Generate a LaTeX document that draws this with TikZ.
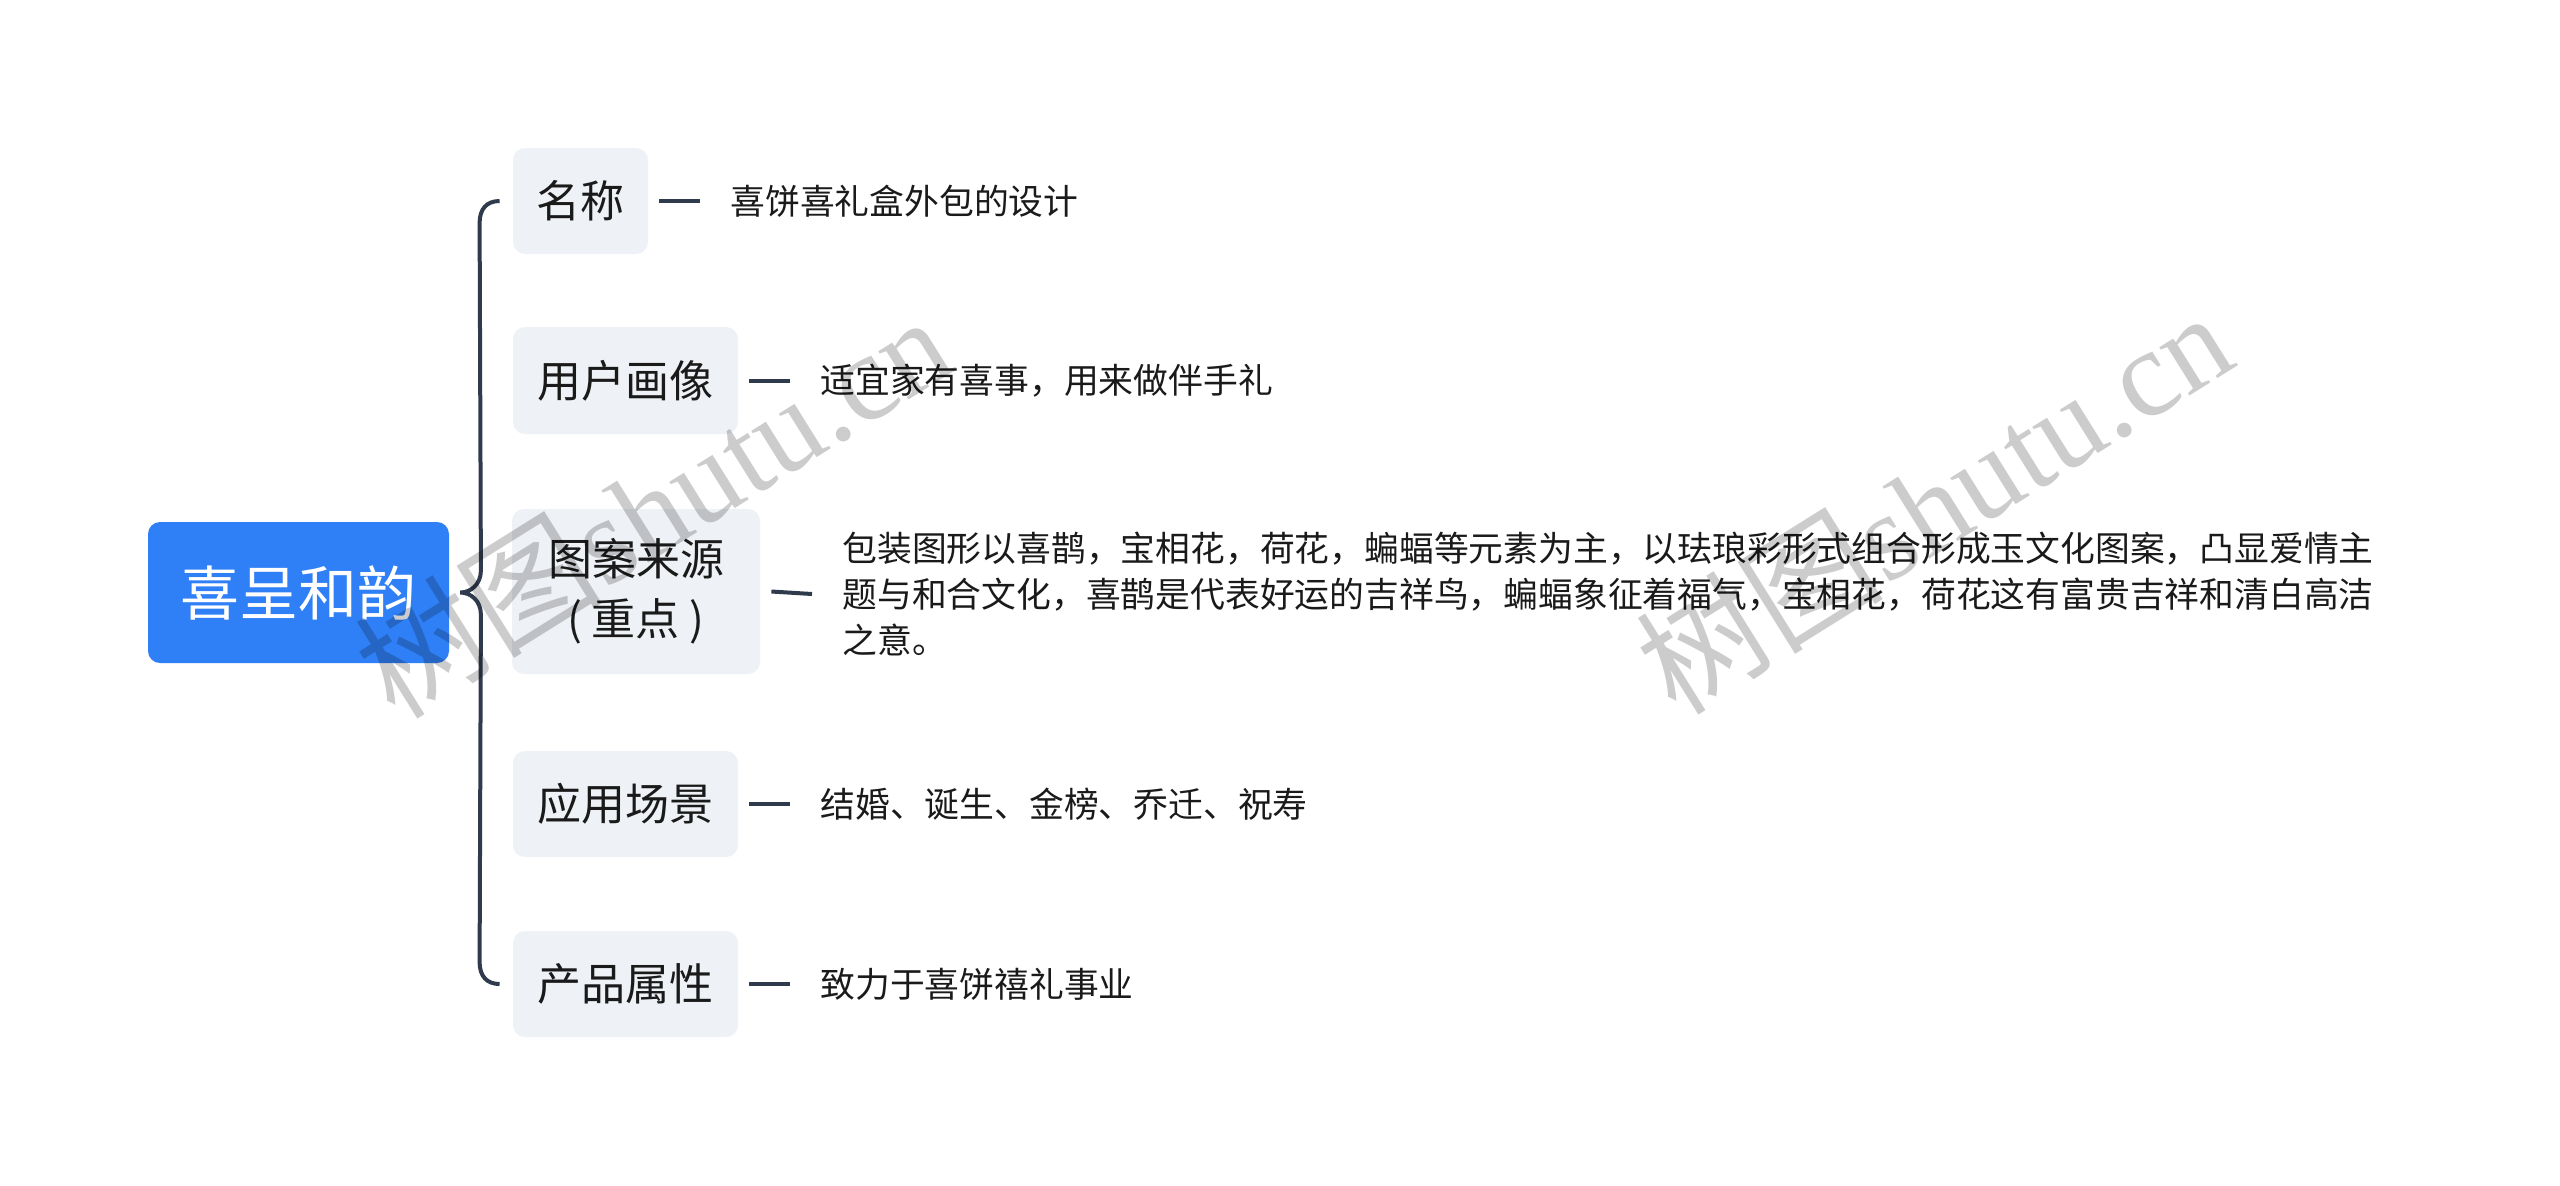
\documentclass[tikz,border=0pt]{standalone}
\usepackage{fontspec}
\setmainfont{Noto Sans CJK SC}
\newfontfamily\wmserif{Liberation Serif}
\usetikzlibrary{calc}
\definecolor{rootblue}{HTML}{2F7FF6}
\definecolor{boxgray}{HTML}{EEF1F5}
\definecolor{linecol}{HTML}{2F3B4C}
\definecolor{txt}{HTML}{1A1A1A}
\begin{document}
\begin{tikzpicture}[x=0.5pt,y=-0.5pt,
  rootbox/.style={fill=rootblue, rounded corners=6pt, text=white, font=\fontsize{29.5pt}{35pt}\selectfont, minimum width=150.5pt, minimum height=70.5pt, inner sep=0pt},
  catbox/.style={fill=boxgray, rounded corners=6pt, text=txt, font=\fontsize{22pt}{30pt}\selectfont, inner sep=0pt, align=center},
  leaf/.style={anchor=west, text=txt, font=\fontsize{17.4pt}{22.85pt}\selectfont, inner sep=0pt, align=left},
  conn/.style={draw=linecol, line width=2pt},
  wm/.style={text=black, text opacity=0.2, rotate=32, inner sep=0pt, font=\fontsize{62pt}{64pt}\selectfont}
]
\useasboundingbox (0,0) rectangle (2560,1185);
\fill[white] (0,0) rectangle (2560,1185);

\node[rootbox] (root) at (298.5,592.5) {喜呈和韵};
\node[catbox, minimum width=67.5pt, minimum height=53pt] (c1) at (580.5,201) {名称};
\node[catbox, minimum width=112.5pt, minimum height=53.5pt] (c2) at (625.5,380.5) {用户画像};
\node[catbox, minimum width=124pt, minimum height=82.5pt] (c3) at (636,591.5) {图案来源\\(\hspace{0.22em}重点\hspace{0.22em})};
\node[catbox, minimum width=112.5pt, minimum height=53pt] (c4) at (625.5,804) {应用场景};
\node[catbox, minimum width=112.5pt, minimum height=53pt] (c5) at (625.5,984) {产品属性};

\node[leaf] (l1) at (730,201) {喜饼喜礼盒外包的设计};
\node[leaf] (l2) at (820,380.5) {适宜家有喜事，用来做伴手礼};
\node[leaf] (l3) at (842,594) {包装图形以喜鹊，宝相花，荷花，蝙蝠等元素为主，以珐琅彩形式组合形成玉文化图案，凸显爱情主\\题与和合文化，喜鹊是代表好运的吉祥鸟，蝙蝠象征着福气，宝相花，荷花这有富贵吉祥和清白高洁\\之意。};
\node[leaf] (l4) at (820,804) {结婚、诞生、金榜、乔迁、祝寿};
\node[leaf] (l5) at (820,984) {致力于喜饼禧礼事业};

\foreach \i in {1,...,5}{
  \draw[conn] ($(c\i.east)+(11,0)$) -- ($(l\i.west)+(-30,0)$);
}

\coordinate (t1) at ($(c1.west)+(-13,0)$);
\coordinate (t5) at ($(c5.west)+(-13,0)$);
\coordinate (tip) at ($(root.east)+(11,0)$);
\draw[conn] (t1) .. controls ($(t1)+(-13,0)$) and ($(t1)+(-20,8)$) .. ($(t1)+(-20,22)$)
  -- ($(tip)+(20.5,-22)$) .. controls ($(tip)+(20.5,-8)$) and ($(tip)+(10,0)$) .. (tip)
  .. controls ($(tip)+(10,0)$) and ($(tip)+(20.5,8)$) .. ($(tip)+(20.5,22)$)
  -- ($(t5)+(-20,-22)$) .. controls ($(t5)+(-20,-8)$) and ($(t5)+(-13,0)$) .. (t5);

\node[wm] (w1) at (652,505) {树图{\wmserif shutu.cn}};
\node[wm] (w2) at (1933,501) {树图{\wmserif shutu.cn}};
\end{tikzpicture}
\end{document}
